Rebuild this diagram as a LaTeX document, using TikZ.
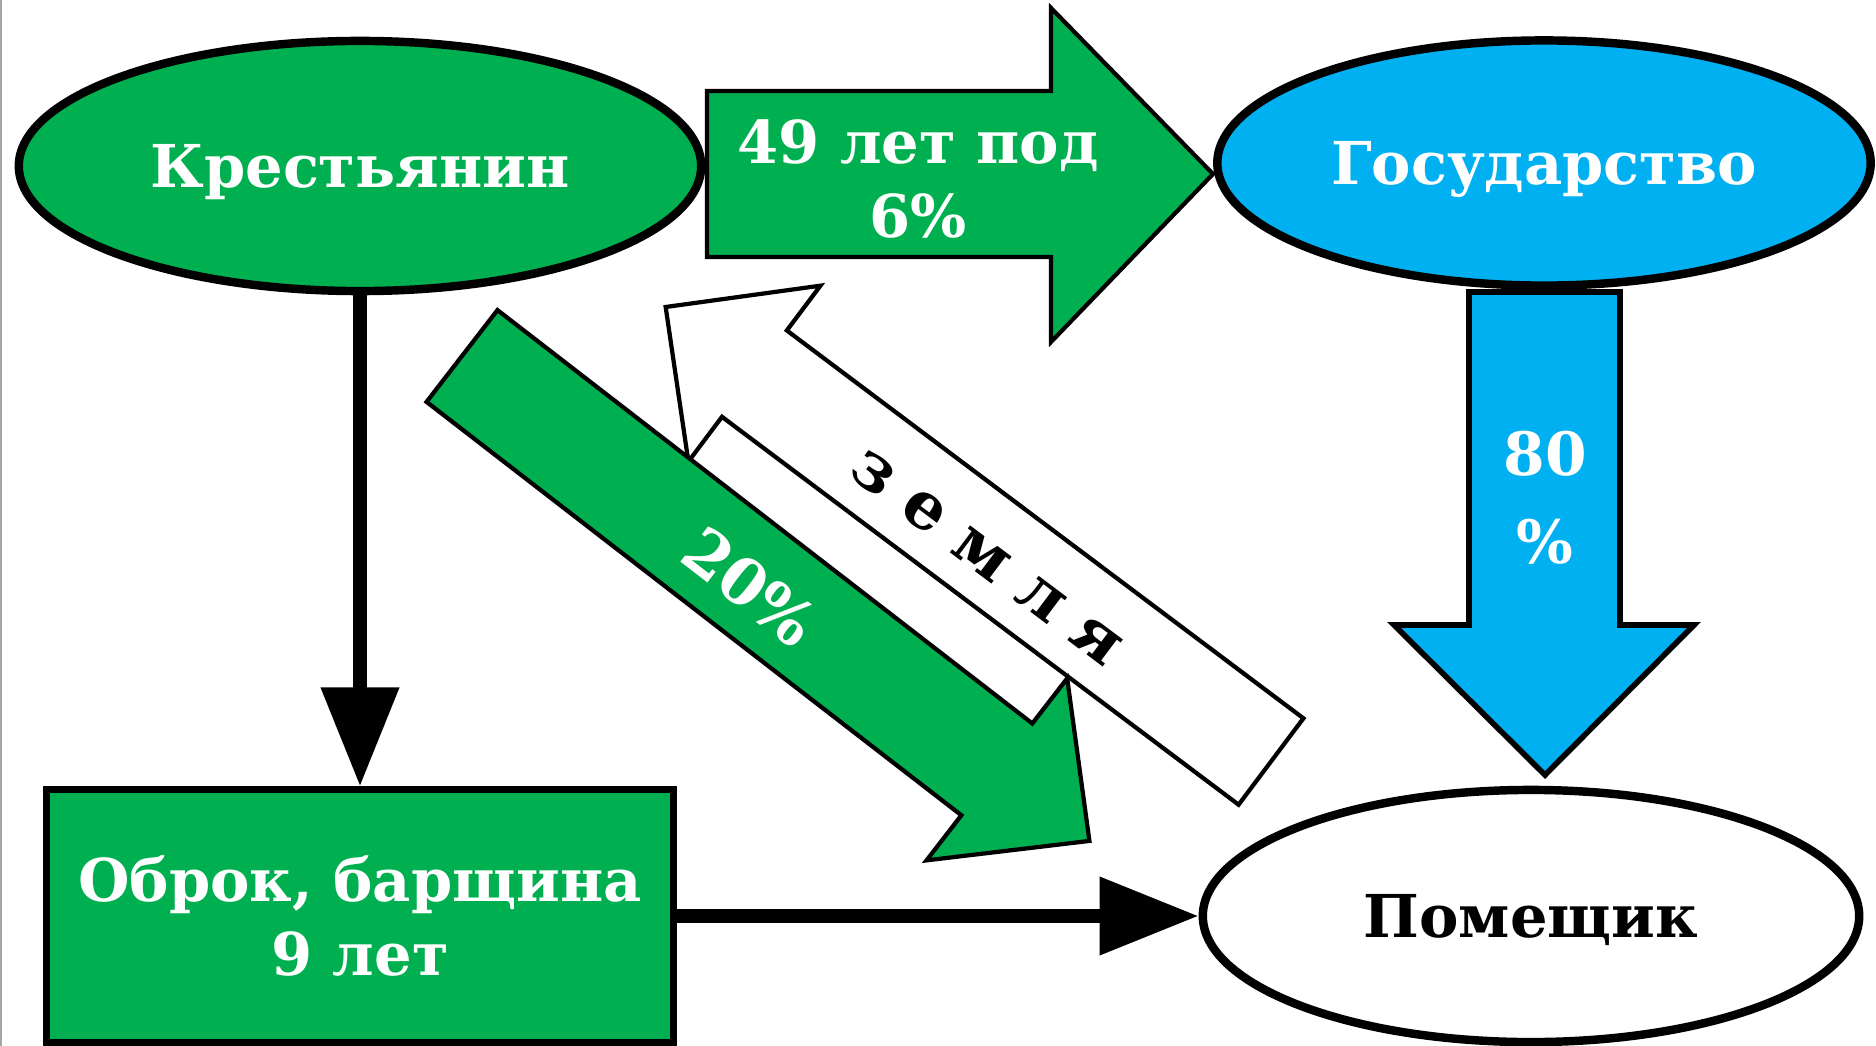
\documentclass[tikz,border=0pt]{standalone}
\usepackage{fontspec}
\setmainfont{DejaVu Serif}
\usetikzlibrary{shapes.geometric,arrows.meta}
\definecolor{okgreen}{HTML}{00B050}
\definecolor{okblue}{HTML}{00B0F0}
\tikzset{
    every node/.style={font=\bfseries\fontsize{16.8}{21}\selectfont, align=center, text=white}, % white bold text
    oval/.style={ellipse, draw, line width=2.4pt, text depth=0pt},
    link/.style={draw, line width=0.14cm, -{Triangle[length=0.99cm,width=0.75cm]}}, % thick black connectors
    block/.style={draw, line width=1.2pt, line join=miter}, % block arrows
}

\begin{document}
\begin{tikzpicture}[x=0.01cm, y=-0.01cm]
  \useasboundingbox (0,0) rectangle (1876,1046);
  \draw[gray!70, line width=0.02cm] (1,0) -- (1,1046);

  % the three parties and the duties box
  \node[oval, fill=okgreen, minimum width=6.82cm, minimum height=2.5cm] (peasant) at (360,166) {Крестьянин};
  \node[oval, fill=okblue, minimum width=6.53cm, minimum height=2.45cm] (state) at (1544,163) {Государство};
  \node[oval, fill=white, text=black, minimum width=6.56cm, minimum height=2.52cm] (landlord) at (1531,916) {Помещик};
  \node[draw, line width=2pt, fill=okgreen, minimum width=6.26cm, minimum height=2.52cm] (obrok) at (360,916) {Оброк, барщина\\9 лет};

  \path[link]
    (peasant) edge (obrok)
    (obrok) edge (landlord);

  % block arrow to the state
  \draw[block, fill=okgreen] (707,91) -- (1051,91) -- (1051,8) -- (1213,174)
    -- (1051,342) -- (1051,257) -- (707,257) -- cycle;
  \node (loan) at (918,179) {49 лет под\\6\%};

  % block arrow from the state down to the landlord
  \draw[block, line width=1.6pt, fill=okblue] (1469,292) -- (1620,292) -- (1620,625) -- (1694,625)
    -- (1545,775) -- (1394,625) -- (1469,625) -- cycle;
  \node[font=\bfseries\fontsize{17}{25}\selectfont] (share) at (1545,498) {80\\\%};

  % land goes back to the peasant
  \begin{scope}[shift={(1271,761.5)}, rotate=143.1]
    \draw[block, fill=white] (0,-54) -- (646,-54) -- (646,-110) -- (757,0)
      -- (646,110) -- (646,54) -- (0,54) -- cycle;
  \end{scope}
  \node[text=black, rotate=-36.9, font=\bfseries\fontsize{18.5}{21}\selectfont] (land) at (986,558) {з е м л я};

  % peasant pays to the landlord
  \begin{scope}[shift={(462,356)}, rotate=-37.7]
    \draw[block, fill=okgreen] (0,-58) -- (676,-58) -- (676,-115) -- (793,0)
      -- (676,115) -- (676,58) -- (0,58) -- cycle;
  \end{scope}
  \node[rotate=-37.7, font=\bfseries\fontsize{18}{21}\selectfont] (pay) at (750,587) {20\%};
\end{tikzpicture}
\end{document}
